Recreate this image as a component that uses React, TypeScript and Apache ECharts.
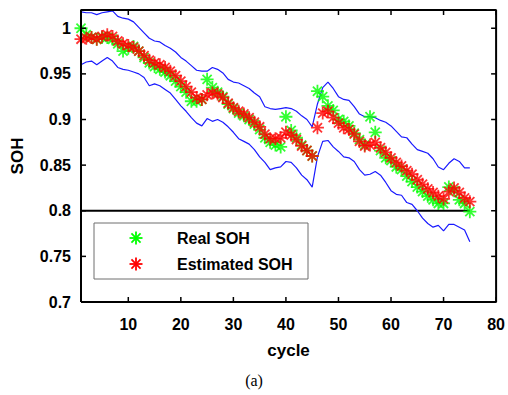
import React, { useEffect, useRef } from "react";
import * as echarts from "echarts";

const cycles = [
  1, 2, 3, 4, 5, 6, 7, 8, 9, 10, 11, 12, 13, 14, 15, 16, 17, 18, 19, 20,
  21, 22, 23, 24, 25, 26, 27, 28, 29, 30, 31, 32, 33, 34, 35, 36, 37, 38, 39, 40,
  41, 42, 43, 44, 45, 46, 47, 48, 49, 50, 51, 52, 53, 54, 55, 56, 57, 58, 59, 60,
  61, 62, 63, 64, 65, 66, 67, 68, 69, 70, 71, 72, 73, 74, 75,
];

const realSOH = [
  1.0, 0.993, 0.99, 0.988, 0.99, 0.99, 0.988, 0.983, 0.975, 0.978,
  0.98, 0.975, 0.968, 0.962, 0.958, 0.955, 0.952, 0.948, 0.942, 0.936,
  0.93, 0.92, 0.92, 0.922, 0.944, 0.935, 0.93, 0.925, 0.917, 0.912,
  0.907, 0.904, 0.9, 0.895, 0.889, 0.88, 0.875, 0.872, 0.87, 0.903,
  0.888, 0.88, 0.872, 0.866, 0.86, 0.931, 0.925, 0.915, 0.91, 0.9,
  0.898, 0.893, 0.885, 0.878, 0.872, 0.903, 0.886, 0.866, 0.858, 0.855,
  0.848, 0.845, 0.838, 0.832, 0.826, 0.821, 0.816, 0.812, 0.808, 0.808,
  0.826, 0.822, 0.812, 0.808, 0.799,
];

const estimatedSOH = [
  0.988, 0.989, 0.99, 0.988, 0.991, 0.993, 0.991, 0.986, 0.983, 0.981,
  0.979, 0.975, 0.97, 0.965, 0.962, 0.96, 0.957, 0.953, 0.948, 0.942,
  0.936, 0.93, 0.924, 0.922, 0.927, 0.929, 0.928, 0.924, 0.918, 0.913,
  0.909, 0.906, 0.902, 0.897, 0.892, 0.884, 0.879, 0.879, 0.88, 0.886,
  0.883, 0.878, 0.871, 0.866, 0.86, 0.891, 0.907, 0.909, 0.902, 0.896,
  0.891, 0.889, 0.884, 0.876, 0.871, 0.872, 0.875, 0.869, 0.864, 0.858,
  0.853, 0.849, 0.844, 0.84, 0.834, 0.829, 0.824, 0.82, 0.816, 0.813,
  0.821, 0.825, 0.82, 0.814, 0.81,
];

const upperBound = [
  1.018, 1.017, 1.017, 1.015, 1.017, 1.018, 1.019, 1.013, 1.011, 1.01,
  1.007, 1.001, 0.995, 0.989, 0.986, 0.985, 0.981, 0.978, 0.974, 0.968,
  0.964, 0.959, 0.954, 0.953, 0.953, 0.957, 0.955, 0.951, 0.944, 0.941,
  0.94, 0.937, 0.934, 0.929, 0.925, 0.914, 0.912, 0.911, 0.912, 0.913,
  0.912, 0.909, 0.904, 0.9, 0.892, 0.917, 0.935, 0.941, 0.934, 0.925,
  0.922, 0.921, 0.914, 0.906, 0.903, 0.903, 0.902, 0.899, 0.897, 0.893,
  0.887, 0.881, 0.88, 0.873, 0.867, 0.865, 0.863, 0.857, 0.848, 0.845,
  0.852, 0.857, 0.854, 0.847, 0.847,
];

const lowerBound = [
  0.96, 0.963, 0.964, 0.96, 0.964, 0.968, 0.964, 0.957, 0.955, 0.954,
  0.952, 0.95, 0.946, 0.937, 0.939, 0.937, 0.933, 0.929, 0.922, 0.915,
  0.909, 0.902, 0.896, 0.893, 0.901, 0.898, 0.9, 0.897, 0.892, 0.886,
  0.879, 0.876, 0.873, 0.867, 0.859, 0.853, 0.845, 0.847, 0.848, 0.854,
  0.853, 0.847, 0.839, 0.834, 0.826, 0.859, 0.876, 0.877, 0.87, 0.865,
  0.859, 0.858, 0.854, 0.845, 0.839, 0.84, 0.843, 0.839, 0.831, 0.822,
  0.818, 0.817, 0.809, 0.807, 0.8, 0.792, 0.786, 0.782, 0.784, 0.778,
  0.785, 0.785, 0.782, 0.779, 0.766,
];

const thresholdSOH = 0.8;
const thresholdRange = [1, 75];

const xMin = 1;
const xMax = 80;
const yMin = 0.7;
const yMax = 1.02;

const xTicks = [10, 20, 30, 40, 50, 60, 70, 80];
const yTicks = [0.7, 0.75, 0.8, 0.85, 0.9, 0.95, 1];

const legendNames = ["Real SOH", "Estimated SOH"];
const legendColors = ["#00ff00", "#ff0000"];

const ASTERISK = "path://M50,0L50,100M0,50L100,50M15,15L85,85M15,85L85,15";

const pair = (ys: number[]) => cycles.map((c, i) => [c, ys[i]]);

const GRID = { left: 81, top: 10, width: 416, height: 292 };
const TICK_LEN = 5;

function asteriskIcon(cx: number, cy: number, r: number, color: string) {
  const d = r * 0.7;
  const segs = [
    [0, -r, 0, r],
    [-r, 0, r, 0],
    [-d, -d, d, d],
    [-d, d, d, -d],
  ];
  return segs.map((s) => ({
    type: "polyline",
    z: 101,
    shape: { points: [[cx + s[0], cy + s[1]], [cx + s[2], cy + s[3]]] },
    style: { stroke: color, lineWidth: 1.8, fill: null },
  }));
}

function tickStyle() {
  return { stroke: "#000", lineWidth: 1.5, fill: null };
}

export default function App() {
  const ref = useRef<HTMLDivElement>(null);

  useEffect(() => {
    if (!ref.current) return;
    const chart = echarts.init(ref.current, null, { renderer: "svg" });
    const labelFont = {
      fontFamily: "'Liberation Sans', Arial, sans-serif",
      fontWeight: "bold" as const,
      fontSize: 16,
      color: "#000",
    };

    const legendGraphics: any[] = [
      {
        type: "rect",
        shape: { x: 94, y: 223, width: 214, height: 56 },
        style: { fill: "#fff", stroke: "#6e6e6e", lineWidth: 1 },
        z: 100,
      },
    ];
    legendNames.forEach((name, i) => {
      const cy = 238 + i * 26;
      legendGraphics.push(...asteriskIcon(136, cy, 6.5, legendColors[i]));
      legendGraphics.push({
        type: "text",
        x: 177,
        y: cy,
        z: 101,
        style: {
          text: name,
          fill: "#000",
          font: "bold 16px 'Liberation Sans', Arial, sans-serif",
          align: "left",
          verticalAlign: "middle",
        },
      });
    });

    chart.setOption({
      animation: false,
      backgroundColor: "#fff",
      grid: {
        left: GRID.left,
        top: GRID.top,
        width: GRID.width,
        height: GRID.height,
        containLabel: false,
      },
      xAxis: {
        type: "value",
        min: xMin,
        max: xMax,
        splitLine: { show: false },
        axisLine: { show: false, onZero: false },
        axisTick: { show: false },
        name: "cycle",
        nameLocation: "middle",
        nameGap: 40,
        nameTextStyle: { ...labelFont, fontSize: 17 },
        axisLabel: { ...labelFont, margin: 14, customValues: xTicks, formatter: (v: number) => String(v) },
      },
      yAxis: {
        type: "value",
        min: yMin,
        max: yMax,
        splitLine: { show: false },
        axisLine: { show: false, onZero: false },
        axisTick: { show: false },
        name: "SOH",
        nameLocation: "middle",
        nameGap: 55,
        nameTextStyle: { ...labelFont, fontSize: 17 },
        axisLabel: {
          ...labelFont,
          margin: 10,
          customValues: yTicks,
          formatter: (v: number) => String(Math.round(v * 100) / 100),
        },
      },
      series: [
        {
          name: "threshold",
          type: "line",
          data: [
            [thresholdRange[0], thresholdSOH],
            [thresholdRange[1], thresholdSOH],
          ],
          showSymbol: false,
          lineStyle: { color: "#000", width: 2 },
          z: 1,
        },
        {
          name: "upper",
          type: "line",
          data: pair(upperBound),
          showSymbol: false,
          lineStyle: { color: "#1a1aff", width: 1.2 },
          z: 2,
        },
        {
          name: "lower",
          type: "line",
          data: pair(lowerBound),
          showSymbol: false,
          lineStyle: { color: "#1a1aff", width: 1.2 },
          z: 2,
        },
        {
          name: "Real SOH",
          type: "scatter",
          data: pair(realSOH),
          symbol: ASTERISK,
          symbolSize: 13,
          itemStyle: { color: "#00ff00", borderColor: "#00ff00", borderWidth: 1.8 },
          z: 3,
        },
        {
          name: "Estimated SOH",
          type: "scatter",
          data: pair(estimatedSOH),
          symbol: ASTERISK,
          symbolSize: 13,
          itemStyle: { color: "#ff0000", borderColor: "#ff0000", borderWidth: 1.8 },
          z: 4,
        },
        {
          name: "frame",
          type: "line",
          data: [
            [xMin, yMin],
            [xMax, yMin],
            [xMax, yMax],
            [xMin, yMax],
            [xMin, yMin],
          ],
          showSymbol: false,
          clip: false,
          lineStyle: { color: "#000", width: 2 },
          z: 10,
        },
        {
          name: "xTicks",
          type: "custom",
          data: xTicks.map((v) => [v, yMin]),
          encode: { x: 0, y: 1 },
          clip: false,
          z: 11,
          renderItem: (_params: any, api: any) => {
            const v = api.value(0);
            const b = api.coord([v, yMin]);
            const t = api.coord([v, yMax]);
            return {
              type: "group",
              children: [
                { type: "polyline", shape: { points: [[b[0], b[1]], [b[0], b[1] - TICK_LEN]] }, style: tickStyle() },
                { type: "polyline", shape: { points: [[t[0], t[1]], [t[0], t[1] + TICK_LEN]] }, style: tickStyle() },
              ],
            };
          },
        },
        {
          name: "yTicks",
          type: "custom",
          data: yTicks.map((v) => [xMin, v]),
          encode: { x: 0, y: 1 },
          clip: false,
          z: 11,
          renderItem: (_params: any, api: any) => {
            const v = api.value(1);
            const l = api.coord([xMin, v]);
            const r = api.coord([xMax, v]);
            return {
              type: "group",
              children: [
                { type: "polyline", shape: { points: [[l[0], l[1]], [l[0] + TICK_LEN, l[1]]] }, style: tickStyle() },
                { type: "polyline", shape: { points: [[r[0], r[1]], [r[0] - TICK_LEN, r[1]]] }, style: tickStyle() },
              ],
            };
          },
        },
      ],
      graphic: [
        ...legendGraphics,
        {
          type: "text",
          x: 254,
          y: 380,
          style: {
            text: "(a)",
            fill: "#000",
            font: "16px 'Liberation Serif', 'Times New Roman', serif",
            align: "center",
            verticalAlign: "middle",
          },
        },
      ],
    });
    return () => chart.dispose();
  }, []);

  return (
    <div
      ref={ref}
      style={{ position: "fixed", left: 0, top: 0, width: 508, height: 395, background: "#fff" }}
    />
  );
}
